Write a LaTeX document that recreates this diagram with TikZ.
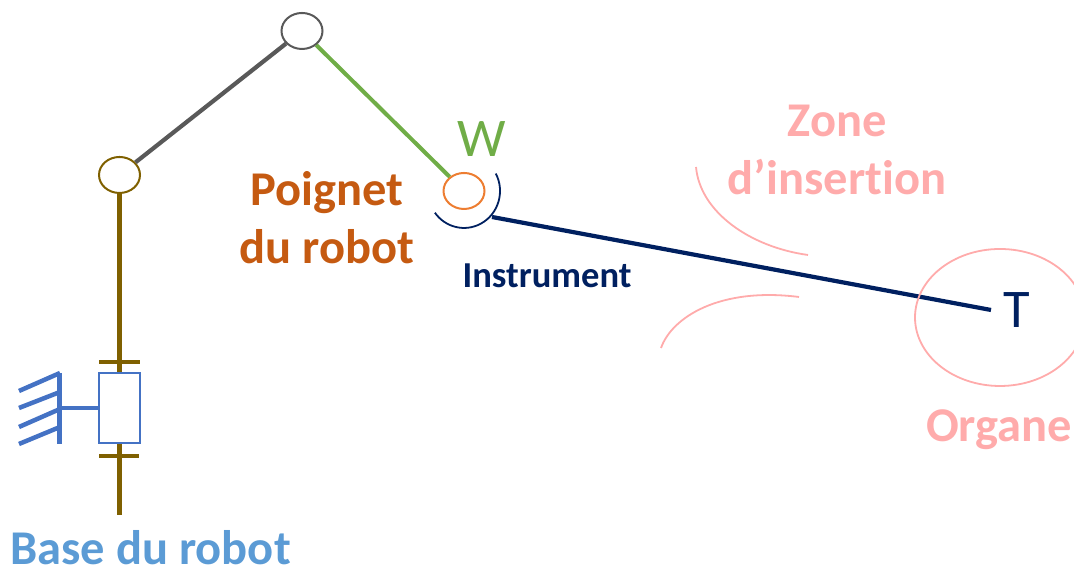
\documentclass[tikz,border=0pt]{standalone}
\usepackage{fontspec}
\setmainfont{Carlito}[Ligatures=CommonOff]
\usepackage{tikz}
\usetikzlibrary{shapes.geometric}
\definecolor{baseblue}{HTML}{5B9BD5}
\definecolor{wallblue}{HTML}{4472C4}
\definecolor{linkbrown}{HTML}{7F6000}
\definecolor{linkgrey}{HTML}{595959}
\definecolor{linkgreen}{HTML}{70AD47}
\definecolor{wristorange}{HTML}{ED7D31}
\definecolor{labelorange}{HTML}{C55A11}
\definecolor{toolnavy}{HTML}{002060}
\definecolor{organpink}{HTML}{FFABAB}
\tikzset{
  joint/.style={ellipse, draw, line width=0.2mm, minimum width=0.41cm, minimum height=0.36cm, inner sep=0pt},
  slider/.style={rectangle, draw=wallblue, line width=0.17mm, minimum width=0.41cm, minimum height=0.70cm, inner sep=0pt},
  label/.style={inner sep=0pt, anchor=base, font=\bfseries\fontsize{13.8}{13.8}\selectfont},
  letter/.style={inner sep=0pt, anchor=base, font=\fontsize{15.5}{15.5}\selectfont},
  thinpink/.style={draw=organpink, line width=0.18mm}
}
\begin{document}
\begin{tikzpicture}
        \useasboundingbox (0,0) rectangle (10.74,5.67);

        % Joints
        \node[joint, draw=linkbrown] (shoulder) at (1.195,3.92) {};
        \node[joint, draw=linkgrey] (elbow) at (3.02,5.36) {};
        \node[joint, draw=wristorange] (wrist) at (4.64,3.76) {};

        % Slider and base
        \node[slider] (guide) at (1.195,1.59) {};
        \coordinate (basefoot) at (1.195,0.52);

        % Arm
        \draw[linkbrown, line width=0.45mm] (shoulder) -- (guide);
        \draw[linkbrown, line width=0.45mm] (guide) -- (basefoot);
        \draw[linkgrey, line width=0.42mm] (shoulder) -- (elbow);
        \draw[linkgreen, line width=0.4mm] (elbow) -- (wrist);

        % Stops
        \draw[linkbrown, line width=0.42mm] (0.99,2.05) -- (1.40,2.05);
        \draw[linkbrown, line width=0.42mm] (0.99,1.11) -- (1.39,1.11);

        % Wall
        \coordinate (wall) at (0.595,1.59);
        \draw[wallblue, line width=0.45mm] (0.595,1.94) -- (0.595,1.23);
        \draw[wallblue, line width=0.45mm] (wall) -- (guide);
        \draw[wallblue, line width=0.45mm] (0.19,1.76) -- (0.60,1.94);
        \draw[wallblue, line width=0.45mm] (0.19,1.59) -- (0.60,1.75);
        \draw[wallblue, line width=0.45mm] (0.19,1.40) -- (0.60,1.58);
        \draw[wallblue, line width=0.45mm] (0.19,1.23) -- (0.60,1.40);

        % Instrument
        \coordinate (socket) at (4.92,3.50);
        \coordinate (tip) at (9.91,2.57);
        \draw[toolnavy, line width=0.18mm] (4.958,3.934) arc[start angle=28, end angle=-144, x radius=0.36, y radius=0.37];
        \draw[toolnavy, line width=0.42mm] (socket) -- (tip);

        % Organ
        \begin{scope}
          \clip (0,0) rectangle (10.74,5.67);
          \draw[thinpink] (10.0,2.495) ellipse [x radius=0.85, y radius=0.685];
        \end{scope}

        % Insertion zone
        \draw[thinpink] (6.96,4.00) .. controls (7.0,3.55) and (7.5,3.2) .. (8.08,3.12);
        \draw[thinpink] (6.61,2.19) .. controls (6.72,2.50) and (7.2,2.80) .. (7.99,2.70);

        % Labels
        \node[letter, text=linkgreen] (wlabel) at (4.82,4.10) {W};
        \node[letter, text=toolnavy] (tlabel) at (10.17,2.39) {T};
        \node[label, text=labelorange] (poignet) at (3.27,3.61) {Poignet};
        \node[label, text=labelorange] (durobot) at (3.27,3.03) {du robot};
        \node[label, text=toolnavy, font=\bfseries\fontsize{10.4}{10.4}\selectfont] (instrument) at (5.47,2.79) {Instrument};
        \node[label, text=organpink] (zone) at (8.37,4.30) {Zone};
        \node[label, text=organpink] (insertion) at (8.37,3.72) {d’insertion};
        \node[label, text=organpink] (organe) at (9.99,1.25) {Organe};
        \node[label, text=baseblue] (base) at (1.505,0.02) {Base du robot};
\end{tikzpicture}
\end{document}
